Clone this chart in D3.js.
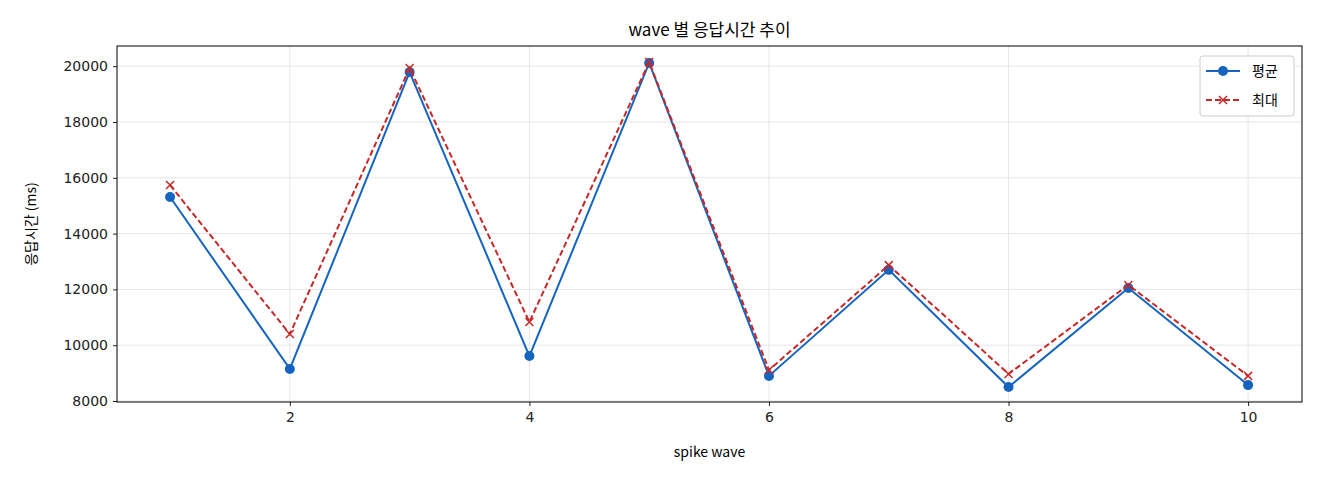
<!DOCTYPE html>
<html><head><meta charset="utf-8">
<script src="https://cdn.jsdelivr.net/npm/d3@7"></script>
<style>body{margin:0;background:#fff;font-family:"Noto Sans CJK KR","Noto Sans",sans-serif;}</style>
</head><body><svg id="c" width="1320" height="480"></svg>
<script>
const waves=[1,2,3,4,5,6,7,8,9,10];
const avgVals=[15310,9150,19790,9610,20115,8900,12700,8500,12050,8570];
const maxVals=[15740,10400,19935,10830,20150,9110,12870,8970,12160,8900];
const yTicks=[8000,10000,12000,14000,16000,18000,20000];
const xTicks=[2,4,6,8,10];
const L=117,R=1302,T=46,B=402;
const svg=d3.select("#c");
const x=d3.scaleLinear().domain([0.557,10.45]).range([L,R]);
const y=d3.scaleLinear().domain([7964,20724]).range([B,T]);
const g=svg.append("g");
g.selectAll(".gx").data(xTicks).join("line").attr("x1",d=>x(d)).attr("x2",d=>x(d)).attr("y1",T).attr("y2",B).attr("stroke","#e6e6e6");
g.selectAll(".gy").data(yTicks).join("line").attr("y1",d=>y(d)).attr("y2",d=>y(d)).attr("x1",L).attr("x2",R).attr("stroke","#e6e6e6");
const xa=svg.append("g").attr("transform",`translate(0,${B})`).call(d3.axisBottom(x).tickValues(xTicks).tickSize(4).tickPadding(6).tickFormat(d3.format("d")));
const ya=svg.append("g").attr("transform",`translate(${L},0)`).call(d3.axisLeft(y).tickValues(yTicks).tickSize(4).tickPadding(5).tickFormat(d3.format("d")));
[xa,ya].forEach(a=>{a.select(".domain").remove();a.selectAll("text").attr("font-size",14).attr("fill","#222").attr("font-family","DejaVu Sans");a.selectAll("line").attr("stroke","#222");});
svg.append("rect").attr("x",L).attr("y",T).attr("width",R-L).attr("height",B-T).attr("fill","none").attr("stroke","#000");
const line=d3.line().x((d,i)=>x(waves[i])).y(d=>y(d));
svg.append("path").attr("d",line(avgVals)).attr("fill","none").attr("stroke","#1565c0").attr("stroke-width",2);
svg.selectAll(".pa").data(avgVals).join("circle").attr("cx",(d,i)=>x(waves[i])).attr("cy",d=>y(d)).attr("r",5).attr("fill","#1565c0");
svg.append("path").attr("d",line(maxVals)).attr("fill","none").attr("stroke","#c62828").attr("stroke-width",2).attr("stroke-dasharray","6,3");
const xm=(g,cx,cy)=>g.append("path").attr("d",`M${cx-4},${cy-4}L${cx+4},${cy+4}M${cx-4},${cy+4}L${cx+4},${cy-4}`).attr("stroke","#c62828").attr("stroke-width",1.5);
maxVals.forEach((d,i)=>xm(svg,x(waves[i]),y(d)));
svg.append("text").attr("x",(L+R)/2).attr("y",36).attr("text-anchor","middle").attr("font-size",17).text("wave 별 응답시간 추이");
svg.append("text").attr("x",(L+R)/2).attr("y",457).attr("text-anchor","middle").attr("font-size",14).text("spike wave");
svg.append("text").attr("transform",`translate(36,${(T+B)/2}) rotate(-90)`).attr("text-anchor","middle").attr("font-size",14).text("응답시간 (ms)");
const lg=svg.append("g");
lg.append("rect").attr("x",1200).attr("y",56).attr("width",94).attr("height",60).attr("rx",3).attr("fill","#fff").attr("stroke","#ccc");
lg.append("line").attr("x1",1206).attr("x2",1240).attr("y1",71).attr("y2",71).attr("stroke","#1565c0").attr("stroke-width",2);
lg.append("circle").attr("cx",1223).attr("cy",71).attr("r",5).attr("fill","#1565c0");
lg.append("text").attr("x",1252).attr("y",76).attr("font-size",14).text("평균");
lg.append("line").attr("x1",1206).attr("x2",1240).attr("y1",100).attr("y2",100).attr("stroke","#c62828").attr("stroke-width",2).attr("stroke-dasharray","6,3");
xm(lg,1223,100);
lg.append("text").attr("x",1252).attr("y",105).attr("font-size",14).text("최대");
</script></body></html>
